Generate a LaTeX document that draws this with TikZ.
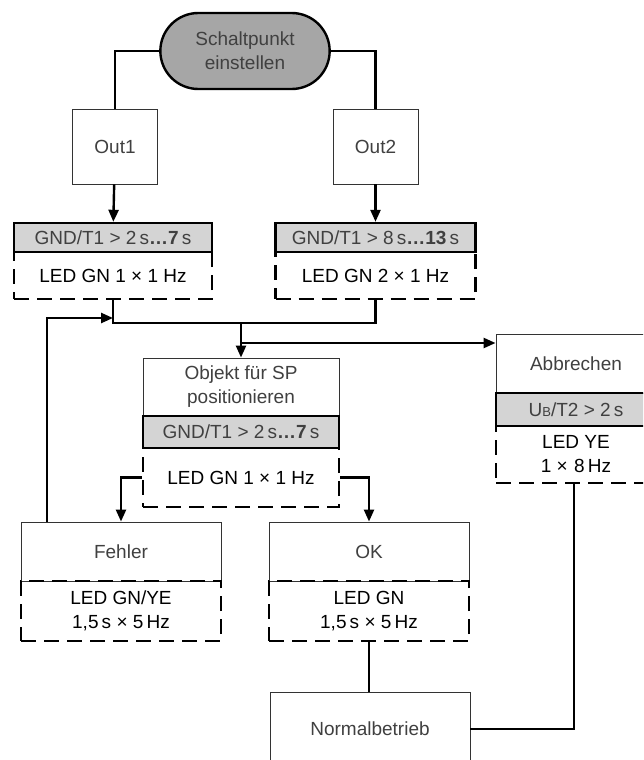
\documentclass[tikz,border=0pt]{standalone}
\usepackage{fontspec}
\setmainfont{Liberation Sans}
\usepackage{xcolor}
\usepackage{tikz}
\usetikzlibrary{shapes,arrows,arrows.meta,positioning}

\tikzset{
    startbox/.style={
        rounded rectangle,
        draw,
        line width=2.4pt,
        fill=black!35,
        text=black!75,
        align=center,
        minimum width=176pt,
        minimum height=76pt
    },
    whitebox/.style={
        draw=black!80,
        line width=0.9pt,
        fill=white,
        text=black!75,
        align=center,
        inner sep=0pt
    },
    graybar/.style={
        draw,
        line width=2.4pt,
        fill=black!17,
        text=black!75,
        inner sep=0pt
    },
    ledbox/.style={
        draw,
        line width=2.6pt,
        dash pattern=on 15pt off 8pt,
        align=center,
        inner sep=0pt
    },
    conn/.style={
        line width=2.4pt
    },
    flow/.style={
        conn,
        -{Triangle[length=12pt,width=10pt]}
    }
}

\begin{document}
\begin{tikzpicture}[
    x=1pt,
    y=-1pt,
    font=\fontsize{19}{24}\selectfont
]
    \useasboundingbox (0,0) rectangle (643,760);
    \clip (0,0) rectangle (643,760);

    \node[startbox] (start) at (245,51) {Schaltpunkt\\einstellen};

    \node[whitebox, minimum width=85pt, minimum height=75pt] (out1) at (115,146.5) {Out1};
    \node[whitebox, minimum width=85pt, minimum height=75pt] (out2) at (375.5,146.5) {Out2};

    \node[graybar, minimum width=198pt, minimum height=29pt] (bar1) at (113,237.5) {GND/T1 > 2\,s\textbf{\dots7}\,s};
    \node[ledbox, minimum width=198pt, minimum height=47pt] (led1) at (113,275.5) {LED GN 1 × 1 Hz};

    \node[graybar, minimum width=200pt, minimum height=29pt] (bar2) at (375.5,237.5) {GND/T1 > 8\,s\textbf{\dots13}\,s};
    \node[ledbox, minimum width=200pt, minimum height=47pt] (led2) at (375.5,275.5) {LED GN 2 × 1 Hz};

    \node[whitebox, minimum width=196pt, minimum height=58pt] (obj) at (241,387) {Objekt für SP\\positionieren};
    \node[graybar, minimum width=196pt, minimum height=32pt] (bar3) at (241,432) {GND/T1 > 2\,s\textbf{\dots7}\,s};
    \node[ledbox, minimum width=196pt, minimum height=59pt] (led3) at (241,477.5) {LED GN 1 × 1 Hz};

    \node[whitebox, minimum width=160pt, minimum height=59pt] (abb) at (576,363.5) {Abbrechen};
    \node[graybar, minimum width=160pt, minimum height=33pt] (bar4) at (576,409.5) {U{\fontsize{13}{13}\selectfont B}/T2 > 2\,s};
    \node[ledbox, minimum width=160pt, minimum height=57pt] (led4) at (576,454.5) {LED YE\\1 ×\,\,8\,Hz};

    \node[whitebox, minimum width=200pt, minimum height=59pt] (err) at (121,551.5) {Fehler};
    \node[ledbox, minimum width=200pt, minimum height=60pt] (led5) at (121,611) {LED GN/YE\\1,5\,s × 5\,Hz};

    \node[whitebox, minimum width=200pt, minimum height=59pt] (ok) at (369,551.5) {OK};
    \node[ledbox, minimum width=200pt, minimum height=60pt] (led6) at (369,611) {LED GN\\1,5\,s × 5\,Hz};

    \node[whitebox, minimum width=200pt, minimum height=74pt] (norm) at (370,729) {Normalbetrieb};

    \coordinate (merge) at (241,323);
    \coordinate (split) at (241,343);
    \coordinate (back) at (113,318);

    \draw[conn] (start.west) -| (out1.north);
    \draw[conn] (start.east) -| (out2.north);
    \draw[flow] (out1) -- (bar1);
    \draw[flow] (out2) -- (bar2);
    \draw[conn] (led1.south) |- (merge) -| (led2.south);
    \draw[flow] (merge) -- (obj.north);
    \draw[flow] (split) -- (split -| abb.west);
    \draw[flow] ([xshift=-74pt]err.north) |- (back);
    \draw[flow] (led3.west) -| (err.north);
    \draw[flow] (led3.east) -| (ok.north);
    \draw[conn] (led6.south) -- (led6.south |- norm.north);
    \draw[conn] (norm.east) -| ([xshift=-2pt]led4.south);
\end{tikzpicture}
\end{document}
